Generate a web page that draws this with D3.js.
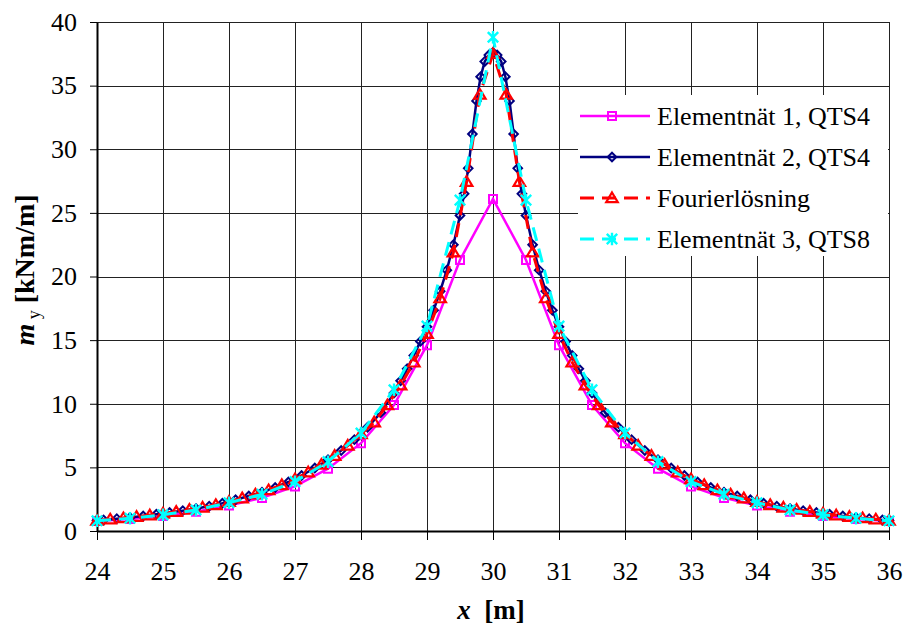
<!DOCTYPE html>
<html>
<head>
<meta charset="utf-8">
<script src="https://cdn.jsdelivr.net/npm/d3@7"></script>
<style>
  body { margin: 0; background: #fff; }
  svg text { font-family: "Liberation Serif", Tinos, "Times New Roman", Times, "DejaVu Serif", serif; }
</style>
</head>
<body>
<script>
// Elementnät 1, QTS4
var mesh1X = [24, 24.5, 25, 25.5, 26, 26.5, 27, 27.5, 28, 28.5, 29, 29.5, 30,
              30.5, 31, 31.5, 32, 32.5, 33, 33.5, 34, 34.5, 35, 35.5, 36];
var mesh1Y = [0.78, 0.95, 1.18, 1.52, 2.0, 2.6, 3.5, 4.9, 6.9, 9.9, 14.6, 21.3, 26.1,
              21.3, 14.6, 9.9, 6.9, 4.9, 3.5, 2.6, 2.0, 1.52, 1.18, 0.95, 0.78];

// Elementnät 2, QTS4
var mesh2X = [24, 24.1, 24.3, 24.5, 24.7, 24.9, 25.1, 25.3, 25.5, 25.7, 25.9, 26.1, 26.3,
              26.5, 26.7, 26.9, 27.1, 27.3, 27.5, 27.7, 27.9, 28.1, 28.3, 28.5,
              28.6, 28.7, 28.8, 28.9, 29.0, 29.1, 29.2, 29.3, 29.4, 29.5,
              29.5625, 29.625, 29.6875, 29.75, 29.8125, 29.875, 29.9375, 30,
              30.0625, 30.125, 30.1875, 30.25, 30.3125, 30.375, 30.4375,
              30.5, 30.6, 30.7, 30.8, 30.9, 31.0, 31.1, 31.2, 31.3, 31.4,
              31.5, 31.7, 31.9, 32.1, 32.3, 32.5, 32.7, 32.9, 33.1, 33.3, 33.5,
              33.7, 33.9, 34.1, 34.3, 34.5, 34.7, 34.9, 35.1, 35.3, 35.5, 35.7, 35.9, 36];
var mesh2Y = [0.83, 0.87, 0.97, 1.07, 1.18, 1.31, 1.45, 1.60, 1.76, 1.95, 2.18, 2.45, 2.75,
              3.05, 3.42, 3.85, 4.36, 4.95, 5.60, 6.32, 7.18, 8.15, 9.30, 10.85,
              11.8, 12.75, 13.8, 14.9, 16.05, 17.35, 18.85, 20.5, 22.5, 24.8,
              26.5, 28.5, 31.2, 33.8, 35.7, 36.9, 37.4, 37.6,
              37.4, 36.9, 35.7, 33.8, 31.2, 28.5, 26.5,
              24.8, 22.5, 20.5, 18.85, 17.35, 16.05, 14.9, 13.8, 12.75, 11.8,
              10.85, 9.30, 8.15, 7.18, 6.32, 5.60, 4.95, 4.36, 3.85, 3.42, 3.05,
              2.75, 2.45, 2.18, 1.95, 1.76, 1.60, 1.45, 1.31, 1.18, 1.07, 0.97, 0.87, 0.83];

// Fourierlösning
var fourierX = [24, 24.2, 24.4, 24.6, 24.8, 25, 25.2, 25.4, 25.6, 25.8, 26, 26.2, 26.4, 26.6, 26.8,
                27, 27.2, 27.4, 27.6, 27.8, 28, 28.2, 28.4, 28.6, 28.8, 29, 29.2, 29.4, 29.6, 29.8,
                30, 30.2, 30.4, 30.6, 30.8, 31, 31.2, 31.4, 31.6, 31.8, 32, 32.2, 32.4, 32.6, 32.8,
                33, 33.2, 33.4, 33.6, 33.8, 34, 34.2, 34.4, 34.6, 34.8, 35, 35.2, 35.4, 35.6, 35.8, 36];
var fourierY = [0.82, 0.92, 1.02, 1.12, 1.24, 1.38, 1.52, 1.68, 1.85, 2.05, 2.30, 2.58, 2.88, 3.22, 3.62,
                4.08, 4.62, 5.22, 5.92, 6.72, 7.62, 8.55, 9.90, 11.45, 13.25, 15.5, 18.3, 21.9, 27.45, 34.3,
                37.5, 34.3, 27.45, 21.9, 18.3, 15.5, 13.25, 11.45, 9.90, 8.55, 7.62, 6.72, 5.92, 5.22, 4.62,
                4.08, 3.62, 3.22, 2.88, 2.58, 2.30, 2.05, 1.85, 1.68, 1.52, 1.38, 1.24, 1.12, 1.02, 0.92, 0.82];

// Elementnät 3, QTS8
var mesh3X = [24, 24.5, 25, 25.5, 26, 26.5, 27, 27.5, 28, 28.5, 29, 29.5, 30,
              30.5, 31, 31.5, 32, 32.5, 33, 33.5, 34, 34.5, 35, 35.5, 36];
var mesh3Y = [0.8, 1.0, 1.27, 1.65, 2.22, 2.88, 3.88, 5.45, 7.7, 11.1, 16.1, 26.0, 38.8,
              26.0, 16.1, 11.1, 7.7, 5.45, 3.88, 2.88, 2.22, 1.65, 1.27, 1.0, 0.8];

var seriesNames = ["Elementnät 1, QTS4", "Elementnät 2, QTS4", "Fourierlösning", "Elementnät 3, QTS8"];
var xTicks = [24, 25, 26, 27, 28, 29, 30, 31, 32, 33, 34, 35, 36];
var yTicks = [0, 5, 10, 15, 20, 25, 30, 35, 40];

var serifFont = '"Liberation Serif", Tinos, "Times New Roman", Times, "DejaVu Serif", serif';

var margin = {top: 22, right: 16, bottom: 101, left: 97},
    width = 905 - margin.left - margin.right,
    height = 632 - margin.top - margin.bottom;

var x = d3.scaleLinear().domain([24, 36]).range([0, width]);
var y = d3.scaleLinear().domain([0, 40]).range([height, 0]);

var svg = d3.select('body')
    .append('svg')
    .attr('width', 905)
    .attr('height', 632)
    .attr('font-family', serifFont);

var main = svg.append('g')
    .attr('transform', 'translate(' + margin.left + ',' + margin.top + ')');

// gridlines
main.append('g').selectAll('line')
    .data(yTicks)
    .enter().append('line')
    .attr('x1', 0).attr('x2', width)
    .attr('y1', function (d) { return Math.round(y(d)) + 0.5; })
    .attr('y2', function (d) { return Math.round(y(d)) + 0.5; })
    .attr('stroke', '#222').attr('stroke-width', 1);

main.append('g').selectAll('line')
    .data(xTicks)
    .enter().append('line')
    .attr('y1', 0).attr('y2', height)
    .attr('x1', function (d) { return Math.round(x(d)) + 0.5; })
    .attr('x2', function (d) { return Math.round(x(d)) + 0.5; })
    .attr('stroke', '#222').attr('stroke-width', 1);

// axes
var xAxis = d3.axisBottom(x).tickValues(xTicks).tickSizeInner(9).tickSizeOuter(0).tickPadding(22);
var gx = main.append('g')
    .attr('transform', 'translate(0,' + height + ')')
    .call(xAxis);

var yAxis = d3.axisLeft(y).tickValues(yTicks).tickSizeInner(7).tickSizeOuter(0).tickPadding(13);
var gy = main.append('g').call(yAxis);

[gx, gy].forEach(function (g) {
    g.attr('font-family', serifFont).attr('font-size', 26);
    g.select('.domain').attr('stroke', '#000').attr('stroke-width', 2);
    g.selectAll('.tick line').attr('stroke', '#000').attr('stroke-width', 1);
    g.selectAll('.tick text').attr('fill', '#000');
});

// symbols
function square(s) { return 'M' + (-s) + ',' + (-s) + 'H' + s + 'V' + s + 'H' + (-s) + 'Z'; }
function diamond(s) { return 'M0,' + (-s) + 'L' + s + ',0L0,' + s + 'L' + (-s) + ',0Z'; }
function triangle(s) { return 'M0,' + (-s) + 'L' + (s * 1.05) + ',' + (s * 0.75) + 'L' + (-s * 1.05) + ',' + (s * 0.75) + 'Z'; }
function star(s) { return 'M' + (-s) + ',' + (-s) + 'L' + s + ',' + s + 'M' + s + ',' + (-s) + 'L' + (-s) + ',' + s + 'M0,' + (-s * 1.2) + 'V' + (s * 1.2); }

var series = [
    {name: seriesNames[0], xs: mesh1X, ys: mesh1Y, color: '#FF00FF', width: 2.5, dash: null, sym: square(4), symW: 2},
    {name: seriesNames[1], xs: mesh2X, ys: mesh2Y, color: '#000080', width: 2.5, dash: null, sym: diamond(4.3), symW: 2},
    {name: seriesNames[2], xs: fourierX, ys: fourierY, color: '#FF0000', width: 3, dash: '14,8', sym: triangle(5.5), symW: 2.2},
    {name: seriesNames[3], xs: mesh3X, ys: mesh3Y, color: '#00FFFF', width: 3, dash: '14,8', sym: star(5.2), symW: 2.4}
];

var line = d3.line()
    .x(function (d) { return x(d[0]); })
    .y(function (d) { return y(d[1]); });

series.forEach(function (s) {
    var pts = d3.zip(s.xs, s.ys);
    var g = main.append('g');
    g.append('path')
        .datum(pts)
        .attr('d', line)
        .attr('fill', 'none')
        .attr('stroke', s.color)
        .attr('stroke-width', s.width)
        .attr('stroke-dasharray', s.dash);
    g.selectAll('path.mk')
        .data(pts)
        .enter().append('path')
        .attr('class', 'mk')
        .attr('transform', function (d) { return 'translate(' + x(d[0]) + ',' + y(d[1]) + ')'; })
        .attr('d', s.sym)
        .attr('fill', 'none')
        .attr('stroke', s.color)
        .attr('stroke-width', s.symW);
});

// legend
var legend = svg.append('g').attr('transform', 'translate(578,95)');
legend.append('rect')
    .attr('width', 310).attr('height', 161)
    .attr('fill', '#fff');

series.forEach(function (s, i) {
    var ly = 21 + i * 41;
    var row = legend.append('g').attr('transform', 'translate(0,' + ly + ')');
    row.append('line')
        .attr('x1', 2).attr('x2', 72)
        .attr('y1', 0).attr('y2', 0)
        .attr('stroke', s.color)
        .attr('stroke-width', s.width)
        .attr('stroke-dasharray', s.dash);
    row.append('path')
        .attr('transform', 'translate(34,0)')
        .attr('d', s.sym)
        .attr('fill', 'none')
        .attr('stroke', s.color)
        .attr('stroke-width', s.symW);
    row.append('text')
        .attr('x', 79).attr('y', 9)
        .attr('font-size', 26)
        .text(s.name);
});

// axis titles
svg.append('text')
    .attr('x', margin.left + width / 2 - 2)
    .attr('y', 619)
    .attr('text-anchor', 'middle')
    .attr('font-size', 27)
    .attr('font-weight', 'bold')
    .html('<tspan font-style="italic">x</tspan>&#160; [m]');

var yt = svg.append('text')
    .attr('transform', 'translate(34,270) rotate(-90)')
    .attr('text-anchor', 'middle')
    .attr('font-size', 28)
    .attr('font-weight', 'bold');
yt.append('tspan').attr('font-style', 'italic').text('m');
yt.append('tspan').attr('dy', 6).attr('font-size', 18).attr('font-weight', 'normal').text(' y');
yt.append('tspan').attr('dy', -6).text(' [kNm/m]');
</script>
</body>
</html>
